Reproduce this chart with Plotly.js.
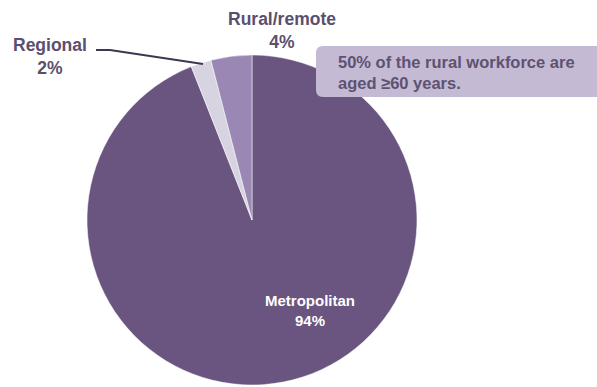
<!DOCTYPE html>
<html>
<head>
<meta charset="utf-8">
<script src="https://cdn.plot.ly/plotly-3.0.1.min.js"></script>
<style>html,body{margin:0;padding:0;background:#fff;}#chart{width:597px;height:387px;}</style>
</head>
<body>
<div id="chart"></div>
<script>
var categories = ["Metropolitan", "Regional", "Rural/remote"];
var percents = [94, 2, 4];
var sliceColors = ["#6a5580", "#d8d3e1", "#9a87b3"];
var noteLines = ["50% of the rural workforce are", "aged \u226560 years."];

var W = 597, H = 387;
var M = {l: 0, r: 0, t: 55, b: 2};
function px(x) { return (x - M.l) / (W - M.l - M.r); }
function py(y) { return 1 - (y - M.t) / (H - M.t - M.b); }

var cx = 252, R = 165;
var FAM = "Liberation Sans, Arial, sans-serif";
var labelFont = {family: FAM, size: 17.5, color: "#5b4f6f"};

var data = [{
  type: "pie",
  labels: categories,
  values: percents,
  sort: false,
  direction: "clockwise",
  rotation: 0,
  textinfo: "none",
  hoverinfo: "label+percent",
  marker: {colors: sliceColors, line: {color: "#ffffff", width: 0.5}},
  domain: {x: [px(cx - R), px(cx + R)], y: [0, 1]},
  showlegend: false
}];

function lbl(i) { return "<b>" + categories[i] + "<br>" + percents[i] + "%</b>"; }

var annotations = [
  {xref: "paper", yref: "paper", x: px(282), y: py(30), text: lbl(2), showarrow: false,
   font: labelFont, xanchor: "center", yanchor: "middle"},
  {xref: "paper", yref: "paper", x: px(50), y: py(56), text: lbl(1), showarrow: false,
   font: labelFont, xanchor: "center", yanchor: "middle"},
  {xref: "paper", yref: "paper", x: px(310), y: py(310), text: lbl(0), showarrow: false,
   font: {family: FAM, size: 15, color: "#ffffff"}, xanchor: "center", yanchor: "middle"},
  {xref: "paper", yref: "paper", x: px(336), y: py(72), text: "<b>" + noteLines.join("<br>") + "</b>", showarrow: false,
   align: "left", xanchor: "left", yanchor: "middle",
   font: {family: FAM, size: 16.5, color: "#5e5272"}}
];

function roundRect(x0, y0, x1, y1, r) {
  var X0 = px(x0), X1 = px(x1), Y0 = py(y0), Y1 = py(y1);
  var rx = r / (W - M.l - M.r), ry = r / (H - M.t - M.b);
  return "M" + (X0 + rx) + "," + Y0 +
    " L" + (X1 - rx) + "," + Y0 + " Q" + X1 + "," + Y0 + " " + X1 + "," + (Y0 - ry) +
    " L" + X1 + "," + (Y1 + ry) + " Q" + X1 + "," + Y1 + " " + (X1 - rx) + "," + Y1 +
    " L" + (X0 + rx) + "," + Y1 + " Q" + X0 + "," + Y1 + " " + X0 + "," + (Y1 + ry) +
    " L" + X0 + "," + (Y0 - ry) + " Q" + X0 + "," + Y0 + " " + (X0 + rx) + "," + Y0 + " Z";
}

var shapes = [
  {type: "path", xref: "paper", yref: "paper", path: roundRect(316, 46, 604, 97, 7),
   fillcolor: "#c4bad4", line: {width: 0}, layer: "above"},
  {type: "path", xref: "paper", yref: "paper",
   path: "M" + px(96) + "," + py(50) + " L" + px(110) + "," + py(50) + " L" + px(203) + "," + py(64),
   line: {color: "#3f3652", width: 2}, layer: "above"}
];

var layout = {
  width: W, height: H,
  margin: M,
  paper_bgcolor: "#ffffff",
  plot_bgcolor: "#ffffff",
  annotations: annotations,
  shapes: shapes,
  showlegend: false
};

Plotly.newPlot("chart", data, layout, {displayModeBar: false, staticPlot: true});
</script>
</body>
</html>
